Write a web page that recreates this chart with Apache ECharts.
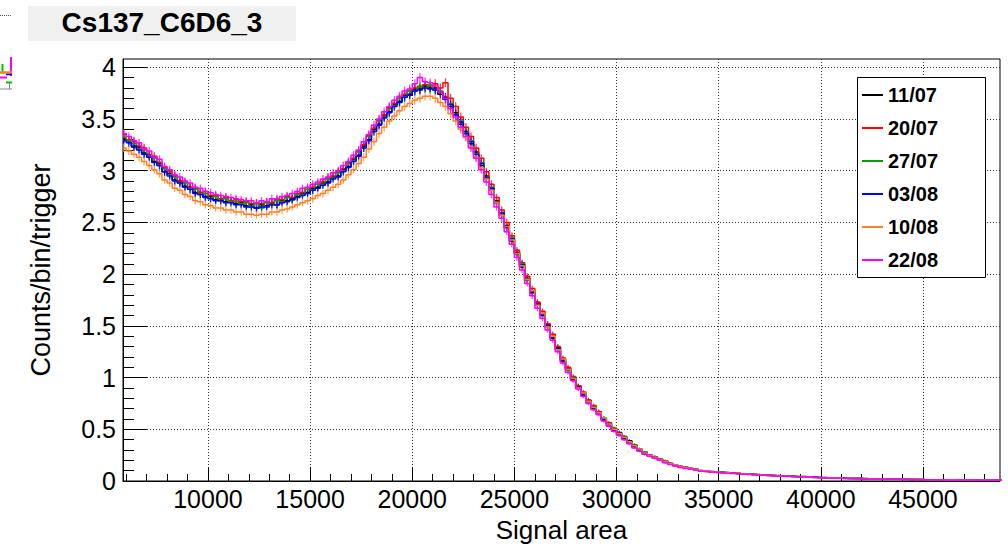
<!DOCTYPE html>
<html><head><meta charset="utf-8">
<script src="https://cdn.jsdelivr.net/npm/echarts@6/dist/echarts.min.js"></script>
<style>html,body{margin:0;padding:0;background:#fff}#c{width:1008px;height:548px}</style>
</head><body><div id="c"></div>
<script>
// ---- data ----
const binFirstCenter = 5875;
const binWidth = 250;
const seriesNames = ['11/07', '20/07', '27/07', '03/08', '10/08', '22/08'];
const s1107 = [
3.31,3.29,3.23,3.23,3.17,3.15,3.09,3.07,2.99,2.97,2.91,2.90,2.85,2.84,2.79,2.79,2.75,2.75,2.72,2.73,
2.70,2.71,2.68,2.69,2.66,2.67,2.64,2.67,2.66,2.69,2.67,2.71,2.71,2.73,2.75,2.78,2.79,2.83,2.84,2.88,
2.89,2.94,2.95,3.01,3.04,3.11,3.15,3.24,3.30,3.40,3.45,3.53,3.57,3.64,3.67,3.73,3.74,3.79,3.79,3.82,
3.80,3.80,3.74,3.71,3.62,3.56,3.45,3.38,3.26,3.18,3.05,2.95,2.81,2.71,2.57,2.47,2.32,2.21,2.07,1.96,
1.82,1.72,1.60,1.51,1.38,1.29,1.16,1.09,0.98,0.92,0.83,0.78,0.70,0.67,0.59,0.56,0.49,0.47,0.41,0.39,
0.33,0.31,0.26,0.25,0.22,0.21,0.18,0.17,0.15,0.14,0.128,0.121,0.108,0.101,0.094,0.091,0.085,0.084,0.079,0.078,
0.072,0.071,0.066,0.065,0.060,0.059,0.054,0.054,0.049,0.049,0.045,0.045,0.041,0.043,0.039,0.038,0.035,0.035,0.031,0.030,
0.028,0.027,0.025,0.024,0.023,0.023,0.021,0.021,0.019,0.019,0.018,0.017,0.017,0.016,0.015,0.015,0.014,0.013,0.013,0.012,
0.012,0.011,0.011,0.010,0.010,0.010,0.009,0.009,0.009,0.008,0.008,0.008,0.007];
const s2007 = [
3.35,3.30,3.28,3.24,3.22,3.15,3.14,3.08,3.03,2.99,2.95,2.90,2.89,2.84,2.83,2.79,2.80,2.76,2.76,2.73,
2.74,2.71,2.72,2.70,2.70,2.68,2.69,2.68,2.70,2.69,2.72,2.72,2.75,2.74,2.78,2.79,2.82,2.84,2.87,2.89,
2.93,2.95,2.99,3.02,3.08,3.12,3.19,3.25,3.34,3.41,3.49,3.54,3.61,3.65,3.70,3.74,3.77,3.80,3.81,3.83,
3.82,3.84,3.80,3.85,3.70,3.62,3.52,3.42,3.33,3.22,3.12,2.99,2.87,2.74,2.62,2.50,2.37,2.23,2.11,1.98,
1.86,1.73,1.64,1.52,1.42,1.30,1.19,1.10,1.01,0.92,0.86,0.78,0.73,0.67,0.61,0.56,0.51,0.46,0.43,0.38,
0.35,0.30,0.28,0.25,0.235,0.21,0.195,0.17,0.155,0.14,0.133,0.12,0.113,0.10,0.097,0.09,0.088,0.083,0.082,0.077,
0.075,0.070,0.068,0.064,0.062,0.058,0.056,0.053,0.051,0.048,0.047,0.044,0.043,0.040,0.039,0.036,0.035,0.032,0.032,0.029,
0.029,0.026,0.026,0.024,0.024,0.022,0.022,0.020,0.020,0.018,0.018,0.017,0.017,0.015,0.016,0.014,0.014,0.013,0.013,0.012,
0.012,0.011,0.011,0.010,0.010,0.009,0.009,0.009,0.009,0.008,0.008,0.007,0.007];
const s2707 = [
3.32,3.29,3.26,3.21,3.20,3.14,3.12,3.05,3.02,2.96,2.94,2.88,2.88,2.82,2.82,2.77,2.78,2.73,2.75,2.71,
2.73,2.70,2.70,2.68,2.69,2.65,2.68,2.64,2.69,2.67,2.71,2.70,2.74,2.72,2.77,2.77,2.82,2.81,2.87,2.87,
2.92,2.93,2.98,3.00,3.07,3.10,3.18,3.22,3.33,3.38,3.48,3.52,3.60,3.63,3.70,3.71,3.77,3.77,3.82,3.80,
3.83,3.78,3.77,3.69,3.65,3.54,3.48,3.36,3.29,3.16,3.08,2.93,2.84,2.69,2.59,2.45,2.35,2.19,2.10,1.94,
1.84,1.70,1.62,1.49,1.40,1.27,1.18,1.07,1.00,0.90,0.85,0.76,0.72,0.65,0.61,0.54,0.51,0.45,0.43,0.37,
0.35,0.29,0.28,0.24,0.235,0.20,0.195,0.165,0.155,0.135,0.133,0.118,0.113,0.098,0.098,0.088,0.088,0.081,0.082,0.075,
0.075,0.069,0.068,0.063,0.063,0.057,0.057,0.052,0.052,0.047,0.047,0.043,0.043,0.039,0.039,0.035,0.035,0.031,0.032,0.028,
0.029,0.025,0.026,0.023,0.024,0.021,0.022,0.019,0.020,0.017,0.018,0.016,0.017,0.015,0.016,0.014,0.014,0.012,0.013,0.011,
0.012,0.010,0.011,0.009,0.010,0.009,0.009,0.008,0.009,0.008,0.008,0.007,0.007];
const s0308 = [
3.29,3.27,3.24,3.20,3.16,3.13,3.08,3.05,2.99,2.95,2.90,2.88,2.84,2.82,2.78,2.77,2.74,2.73,2.71,2.71,
2.69,2.69,2.67,2.67,2.65,2.65,2.64,2.65,2.65,2.67,2.67,2.69,2.70,2.72,2.74,2.76,2.78,2.81,2.83,2.86,
2.88,2.92,2.94,2.99,3.03,3.09,3.14,3.22,3.29,3.38,3.44,3.51,3.56,3.62,3.66,3.71,3.73,3.77,3.78,3.80,
3.79,3.78,3.76,3.69,3.64,3.54,3.47,3.36,3.28,3.16,3.07,2.93,2.83,2.69,2.59,2.45,2.34,2.20,2.09,1.95,
1.83,1.71,1.61,1.50,1.39,1.28,1.17,1.08,0.99,0.91,0.84,0.77,0.71,0.66,0.60,0.55,0.50,0.46,0.42,0.38,
0.34,0.30,0.27,0.25,0.23,0.21,0.19,0.17,0.15,0.14,0.13,0.12,0.11,0.10,0.095,0.09,0.086,0.083,0.080,0.077,
0.073,0.070,0.067,0.064,0.061,0.058,0.055,0.053,0.050,0.048,0.046,0.044,0.042,0.040,0.038,0.036,0.034,0.032,0.031,0.029,
0.028,0.026,0.025,0.024,0.023,0.022,0.021,0.020,0.019,0.018,0.017,0.017,0.016,0.015,0.015,0.014,0.013,0.013,0.012,0.012,
0.011,0.011,0.010,0.010,0.010,0.009,0.009,0.009,0.008,0.008,0.008,0.008,0.007];
const s1008 = [
3.22,3.19,3.16,3.13,3.09,3.05,3.01,2.97,2.91,2.88,2.83,2.81,2.77,2.75,2.71,2.70,2.67,2.66,2.64,2.64,
2.62,2.62,2.60,2.60,2.58,2.58,2.57,2.58,2.58,2.60,2.60,2.62,2.63,2.65,2.67,2.69,2.71,2.73,2.76,2.78,
2.81,2.84,2.87,2.91,2.96,3.01,3.07,3.13,3.21,3.28,3.36,3.42,3.48,3.53,3.58,3.62,3.65,3.68,3.70,3.72,
3.72,3.70,3.66,3.62,3.55,3.48,3.40,3.32,3.23,3.13,3.03,2.92,2.81,2.69,2.57,2.46,2.33,2.20,2.08,1.95,
1.84,1.70,1.62,1.49,1.40,1.27,1.18,1.08,0.99,0.90,0.85,0.77,0.71,0.66,0.61,0.55,0.50,0.46,0.42,0.38,
0.34,0.31,0.27,0.25,0.23,0.21,0.19,0.17,0.155,0.14,0.13,0.12,0.11,0.10,0.096,0.09,0.087,0.083,0.080,0.076,
0.074,0.069,0.068,0.063,0.062,0.057,0.056,0.052,0.051,0.047,0.047,0.043,0.043,0.039,0.039,0.035,0.035,0.031,0.032,0.028,
0.029,0.025,0.026,0.023,0.024,0.021,0.022,0.019,0.020,0.018,0.018,0.016,0.017,0.015,0.016,0.014,0.014,0.012,0.013,0.011,
0.012,0.010,0.011,0.010,0.010,0.009,0.009,0.008,0.009,0.008,0.008,0.007,0.007];
const s2208 = [
3.36,3.33,3.29,3.27,3.21,3.19,3.13,3.11,3.04,3.01,2.96,2.94,2.90,2.88,2.84,2.83,2.80,2.79,2.77,2.76,
2.75,2.74,2.73,2.72,2.71,2.71,2.69,2.71,2.70,2.73,2.73,2.75,2.76,2.78,2.80,2.83,2.84,2.87,2.89,2.92,
2.94,2.98,3.00,3.05,3.09,3.15,3.20,3.28,3.35,3.44,3.50,3.57,3.62,3.68,3.72,3.77,3.79,3.84,3.90,3.86,
3.85,3.82,3.76,3.70,3.60,3.52,3.42,3.33,3.22,3.12,3.01,2.89,2.77,2.65,2.54,2.41,2.29,2.16,2.04,1.91,
1.79,1.67,1.57,1.46,1.36,1.25,1.14,1.05,0.97,0.89,0.82,0.75,0.69,0.64,0.58,0.53,0.48,0.44,0.40,0.36,
0.32,0.29,0.26,0.24,0.22,0.20,0.18,0.16,0.145,0.13,0.122,0.113,0.104,0.095,0.09,0.086,0.082,0.079,0.076,0.073,
0.070,0.067,0.064,0.061,0.058,0.055,0.053,0.050,0.048,0.046,0.044,0.042,0.040,0.038,0.036,0.035,0.033,0.031,0.030,0.028,
0.027,0.025,0.024,0.023,0.022,0.021,0.020,0.019,0.018,0.017,0.017,0.016,0.015,0.015,0.014,0.013,0.013,0.012,0.012,0.011,
0.011,0.010,0.010,0.010,0.009,0.009,0.009,0.008,0.008,0.008,0.007,0.007,0.007];
const seriesValues = [s1107, s2007, s2707, s0308, s1008, s2208];
const xMajorTicks = [10000, 15000, 20000, 25000, 30000, 35000, 40000, 45000];
const yMajorTicks = [0, 0.5, 1, 1.5, 2, 2.5, 3, 3.5, 4];
const errScale = 0.022; // statistical error ~ sqrt(N)
const xMin = 5840, xMax = 48770, yMin = 0, yMax = 4.08;

// ---- build ----
const colors = ['#000000', '#ff0000', '#00a000', '#0000ff', '#ff8020', '#ff00ff'];
const FONT = '"Liberation Sans", Arial, Helvetica, sans-serif';
const xMinor = []; for (let v = 6000; v <= 48000; v += 1000) xMinor.push(v);
const yMinor = []; for (let i = 0; i <= 40; i++) yMinor.push(Math.round(i * 10) / 100);

const series = [];
seriesValues.forEach((arr, si) => {
  const pts = arr.map((v, i) => [binFirstCenter + i * binWidth, v]);
  const errs = arr.map((v, i) => [binFirstCenter + i * binWidth, v, errScale * Math.sqrt(v)]);
  series.push({
    type: 'custom', name: seriesNames[si] + ' err', xAxisIndex: 0, yAxisIndex: 0,
    data: errs, clip: true, silent: true, z: 2,
    encode: { x: 0, y: 1 },
    renderItem: (params, api) => {
      const x = api.value(0), v = api.value(1), e = api.value(2);
      const p1 = api.coord([x, v - e]), p2 = api.coord([x, v + e]);
      return { type: 'line', shape: { x1: p1[0], y1: p1[1], x2: p2[0], y2: p2[1] },
        style: { stroke: colors[si], lineWidth: 1.3, opacity: 0.75 } };
    }
  });
  series.push({
    type: 'line', name: seriesNames[si], xAxisIndex: 0, yAxisIndex: 0,
    data: pts, step: 'middle', symbol: 'none', clip: true, z: 3,
    lineStyle: { color: colors[si], width: 1.5 }, itemStyle: { color: colors[si] }
  });
});

const chart = echarts.init(document.getElementById('c'), null, { renderer: 'svg' });
chart.setOption({
  animation: false,
  backgroundColor: '#ffffff',
  textStyle: { fontFamily: FONT },
  grid: { left: 123, right: 8, top: 59, bottom: 61, show: true, borderColor: '#000', borderWidth: 1, backgroundColor: 'transparent' },
  xAxis: [{
    type: 'value', min: xMin, max: xMax, position: 'bottom',
    axisLine: { show: true, lineStyle: { color: '#000', width: 1 } },
    axisTick: { show: true, inside: true, length: 14, customValues: xMajorTicks, lineStyle: { color: '#000', width: 1 } },
    axisLabel: { show: true, customValues: xMajorTicks, fontSize: 25, color: '#000', margin: 5, fontFamily: FONT, formatter: v => String(v) },
    splitLine: { show: true, lineStyle: { color: '#333', width: 1, type: [1, 2] } },
    minorTick: { show: false },
    name: 'Signal area', nameLocation: 'middle', nameGap: 36,
    nameTextStyle: { fontSize: 26, color: '#000', fontFamily: FONT }
  }, {
    type: 'value', min: xMin, max: xMax, position: 'bottom',
    axisLine: { show: false }, axisLabel: { show: false }, splitLine: { show: false },
    axisTick: { show: true, inside: true, length: 7, customValues: xMinor, lineStyle: { color: '#000', width: 1 } }
  }],
  yAxis: [{
    type: 'value', min: yMin, max: yMax, position: 'left',
    axisLine: { show: true, lineStyle: { color: '#000', width: 1 } },
    axisTick: { show: true, inside: true, length: 24, customValues: yMajorTicks, lineStyle: { color: '#000', width: 1 } },
    axisLabel: { show: true, customValues: yMajorTicks, fontSize: 25, color: '#000', margin: 7, fontFamily: FONT, formatter: v => String(v) },
    splitLine: { show: true, lineStyle: { color: '#333', width: 1, type: [1, 2] } },
    minorTick: { show: false },
    name: 'Counts/bin/trigger', nameLocation: 'middle', nameGap: 69,
    nameTextStyle: { fontSize: 27, color: '#000', fontFamily: FONT }
  }, {
    type: 'value', min: yMin, max: yMax, position: 'left',
    axisLine: { show: false }, axisLabel: { show: false }, splitLine: { show: false },
    axisTick: { show: true, inside: true, length: 11, customValues: yMinor, lineStyle: { color: '#000', width: 1 } }
  }],
  legend: {
    data: seriesNames, orient: 'vertical', left: 862, top: 85,
    itemWidth: 21, itemHeight: 2, itemGap: 13, icon: 'rect', padding: 0, z: 60,
    textStyle: { fontSize: 20, fontWeight: 'bold', color: '#000', lineHeight: 20, fontFamily: FONT },
    selectedMode: false
  },
  graphic: [
    { type: 'rect', z: 50, shape: { x: 857.5, y: 77.5, width: 128, height: 200 }, style: { fill: '#fff', stroke: '#000', lineWidth: 1 } },
    { type: 'rect', z: 50, shape: { x: 28, y: 6, width: 268, height: 35 }, style: { fill: '#f0f0f0' } },
    { type: 'text', z: 51, style: { text: 'Cs137_C6D6_3', x: 162, y: 22.5, align: 'center', verticalAlign: 'middle',
        font: 'bold 28px ' + FONT, fill: '#000' } },
    // fragment of a neighbouring pad at the left edge
    { type: 'line', z: 50, shape: { x1: 0, y1: 15.5, x2: 12, y2: 15.5 }, style: { stroke: '#555', lineWidth: 1, lineDash: [1, 1] } },
    { type: 'line', z: 50, shape: { x1: 0, y1: 89, x2: 12, y2: 89 }, style: { stroke: '#888', lineWidth: 1 } },
    { type: 'line', z: 50, shape: { x1: 9.5, y1: 82, x2: 9.5, y2: 89 }, style: { stroke: '#888', lineWidth: 1 } },
    { type: 'line', z: 51, shape: { x1: 11, y1: 57, x2: 11, y2: 76 }, style: { stroke: '#ff00ff', lineWidth: 2 } },
    { type: 'line', z: 51, shape: { x1: 2.5, y1: 64, x2: 2.5, y2: 74 }, style: { stroke: '#00c000', lineWidth: 2 } },
    { type: 'line', z: 51, shape: { x1: 0, y1: 72.5, x2: 12, y2: 72.5 }, style: { stroke: '#ff8020', lineWidth: 2.5 } },
    { type: 'line', z: 52, shape: { x1: 6, y1: 74.5, x2: 12, y2: 74.5 }, style: { stroke: '#0000ff', lineWidth: 1.5 } },
    { type: 'line', z: 51, shape: { x1: 0, y1: 77.5, x2: 7, y2: 77.5 }, style: { stroke: '#ff00ff', lineWidth: 2 } },
    { type: 'line', z: 51, shape: { x1: 6, y1: 82.5, x2: 12, y2: 82.5 }, style: { stroke: '#00c000', lineWidth: 2 } }
  ],
  series: series
});
</script></body></html>
